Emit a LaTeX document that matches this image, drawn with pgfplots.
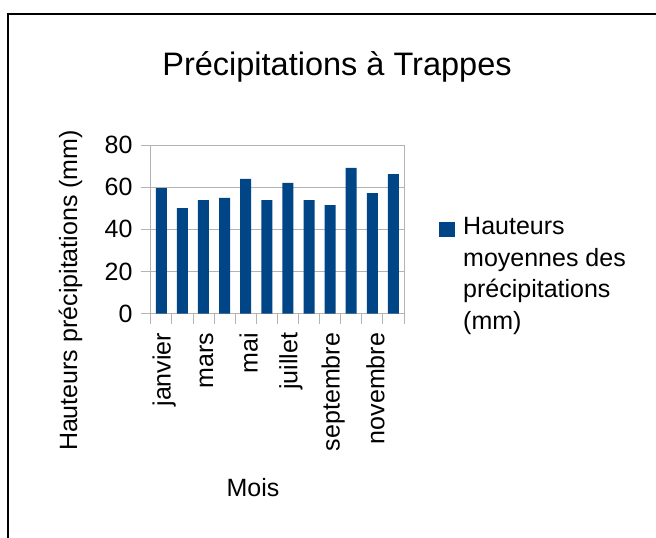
\documentclass[border=0pt]{standalone}
\usepackage{pgfplots}
\pgfplotsset{compat=1.18}
\usepackage{fontspec}
\setmainfont{Liberation Sans}
\definecolor{barblue}{HTML}{004586}
\definecolor{gridgray}{HTML}{B3B3B3}
\begin{document}
\begin{tikzpicture}[x=1pt,y=1pt]
\useasboundingbox (0,0) rectangle (656,538);
\draw[line width=1.3pt] (8,0) -- (8,524) -- (656,524);
\node[anchor=base,font=\fontsize{32.5}{36}\selectfont] at (337,462) {Précipitations à Trappes};
\begin{axis}[
  at={(150.7pt,224.3pt)}, anchor=south west,
  scale only axis, width=253.3pt, height=168.7pt,
  xmin=0, xmax=12, ymin=0, ymax=80,
  ytick={0,20,40,60,80},
  xtick={0,1,...,12}, xticklabels={},
  extra x ticks={0.5,2.5,4.5,6.5,8.5,10.5},
  extra x tick labels={janvier,mars,mai,juillet,septembre,novembre},
  extra x tick style={major tick length=0pt, xticklabel style={rotate=90, anchor=east, inner sep=0pt, xshift=-19pt, yshift=-3pt}, grid=none},
  ymajorgrids, grid style={gridgray, line width=0.8pt},
  axis line style={gridgray, line width=0.8pt},
  tick style={gridgray, line width=0.8pt},
  tick align=outside, major tick length=10pt,
  xtick pos=lower, ytick pos=left,
  tick label style={font=\fontsize{25}{28}\selectfont, black},
  yticklabel style={inner sep=0pt, xshift=-8pt},
  /pgf/number format/assume math mode=true,
]
\addplot[ybar, bar width=11pt, fill=barblue, draw=none, bar shift=0pt] coordinates {
(0.5,59.6) (1.5,50.1) (2.5,53.9) (3.5,54.9) (4.5,63.9) (5.5,53.9)
(6.5,62.0) (7.5,53.9) (8.5,51.5) (9.5,69.1) (10.5,57.2) (11.5,66.2)
};
\end{axis}
\node[rotate=90,anchor=base,font=\fontsize{25}{28}\selectfont] at (77,247.5) {Hauteurs précipitations (mm)};
\node[anchor=base,font=\fontsize{25}{28}\selectfont] at (253,41) {Mois};
\fill[barblue] (439,301.3) rectangle (455,316.3);
\node[anchor=north west,inner sep=0pt,align=left,font=\fontsize{25}{31.7}\selectfont] at (463,321) {Hauteurs\\moyennes des\\précipitations\\(mm)};
\end{tikzpicture}
\end{document}
